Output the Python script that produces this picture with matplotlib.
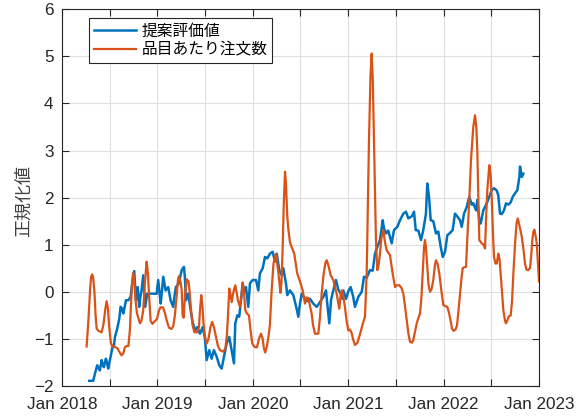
import matplotlib
matplotlib.use("Agg")
import matplotlib.pyplot as plt
import numpy as np

# Time axis is expressed in years elapsed since Jan 2018
# 提案評価値 (proposal evaluation score, normalised)
eval_t = [0.286, 0.328, 0.346, 0.370, 0.383, 0.398, 0.416, 0.430, 0.440, 0.461,
          0.472, 0.485, 0.510, 0.531, 0.545, 0.556, 0.580, 0.601, 0.615, 0.629,
          0.643, 0.655, 0.671, 0.695, 0.720, 0.737, 0.758, 0.765, 0.776, 0.794,
          0.810, 0.823, 0.835, 0.852, 0.863, 0.873, 0.894, 0.922, 0.957, 0.993,
          1.009, 1.035, 1.048, 1.062, 1.087, 1.114, 1.139, 1.167, 1.179, 1.195,
          1.226, 1.255, 1.279, 1.289, 1.300, 1.324, 1.349, 1.370, 1.394, 1.418,
          1.447, 1.475, 1.499, 1.517, 1.544, 1.569, 1.593, 1.622, 1.649, 1.674,
          1.698, 1.726, 1.754, 1.779, 1.803, 1.817, 1.838, 1.858, 1.873, 1.894,
          1.911, 1.929, 1.953, 1.971, 1.999, 2.034, 2.058, 2.075, 2.104, 2.128,
          2.152, 2.180, 2.209, 2.233, 2.251, 2.278, 2.303, 2.320, 2.348, 2.362,
          2.390, 2.425, 2.460, 2.477, 2.495, 2.513, 2.537, 2.565, 2.600, 2.634,
          2.670, 2.704, 2.739, 2.767, 2.785, 2.802, 2.820, 2.844, 2.872, 2.896,
          2.921, 2.940, 2.949, 2.977, 3.005, 3.026, 3.053, 3.071, 3.106, 3.142,
          3.166, 3.194, 3.228, 3.257, 3.281, 3.305, 3.333, 3.362, 3.375, 3.396,
          3.420, 3.456, 3.480, 3.515, 3.543, 3.578, 3.606, 3.630, 3.666, 3.690,
          3.708, 3.735, 3.763, 3.787, 3.815, 3.829, 3.847, 3.865, 3.892, 3.920,
          3.944, 3.970, 3.991, 4.015, 4.039, 4.067, 4.095, 4.119, 4.144, 4.172,
          4.190, 4.214, 4.242, 4.269, 4.295, 4.311, 4.340, 4.353, 4.374, 4.389,
          4.416, 4.452, 4.479, 4.504, 4.528, 4.557, 4.573, 4.591, 4.609, 4.633,
          4.654, 4.678, 4.703, 4.725, 4.748, 4.773, 4.794, 4.801, 4.819, 4.836]
eval_v = [-1.89, -1.89, -1.74, -1.56, -1.62, -1.67, -1.45, -1.55, -1.60, -1.42,
          -1.50, -1.63, -1.38, -1.17, -1.15, -0.96, -0.78, -0.57, -0.32, -0.35,
          -0.46, -0.35, -0.18, -0.18, -0.11, 0.18, 0.44, 0.20, -0.18, 0.10,
          -0.32, -0.10, 0.03, 0.35, 0.00, -0.32, -0.04, -0.04, -0.04, -0.04,
          0.25, -0.25, 0.00, 0.32, 0.03, 0.10, -0.18, -0.32, -0.10, 0.10,
          0.18, 0.46, 0.53, 0.30, -0.18, -0.04, -0.39, -0.64, -0.82, -0.75,
          -0.89, -0.75, -0.99, -1.45, -1.24, -1.42, -1.24, -1.38, -1.56, -1.63,
          -1.38, -1.10, -0.96, -1.24, -1.52, -0.67, -0.50, -0.53, -0.25, 0.18,
          0.00, 0.10, -0.32, 0.18, 0.25, 0.25, 0.03, 0.39, 0.50, 0.74,
          0.71, 0.81, 0.85, 0.64, 0.81, 0.46, 0.35, 0.50, 0.18, -0.07,
          0.03, -0.07, -0.36, -0.53, -0.25, -0.04, -0.11, -0.20, -0.15, -0.25,
          -0.32, -0.22, -0.11, 0.03, -0.32, -0.67, -0.18, 0.03, 0.25, 0.05,
          -0.04, -0.15, 0.03, -0.15, 0.03, 0.10, -0.11, -0.32, -0.11, 0.00,
          0.32, 0.30, 0.46, 0.45, 0.81, 0.95, 1.10, 1.52, 1.35, 1.24,
          1.30, 1.03, 1.31, 1.38, 1.52, 1.66, 1.70, 1.56, 1.60, 1.70,
          1.31, 1.30, 1.10, 1.31, 1.66, 2.30, 2.02, 1.52, 1.50, 1.24,
          1.28, 0.95, 0.74, 0.85, 1.20, 1.25, 1.31, 1.66, 1.60, 1.52,
          1.38, 1.66, 1.80, 2.02, 1.85, 1.88, 1.73, 1.95, 1.52, 1.45,
          1.73, 1.88, 2.02, 2.16, 2.20, 2.15, 2.05, 1.66, 1.65, 1.73,
          1.88, 1.85, 1.90, 2.02, 2.09, 2.16, 2.44, 2.66, 2.44, 2.51]

# 品目あたり注文数 (orders per item, normalised)
orders_t = [0.259, 0.278, 0.297, 0.307, 0.318, 0.328, 0.341, 0.353, 0.364, 0.383,
            0.416, 0.435, 0.456, 0.469, 0.482, 0.498, 0.514, 0.535, 0.556, 0.582,
            0.603, 0.626, 0.645, 0.660, 0.681, 0.697, 0.713, 0.723, 0.737, 0.747,
            0.760, 0.773, 0.786, 0.807, 0.818, 0.833, 0.852, 0.870, 0.888, 0.901,
            0.917, 0.930, 0.949, 0.975, 0.996, 1.017, 1.032, 1.059, 1.080, 1.097,
            1.122, 1.148, 1.167, 1.184, 1.202, 1.216, 1.226, 1.242, 1.255, 1.265,
            1.276, 1.289, 1.307, 1.326, 1.336, 1.352, 1.368, 1.389, 1.415, 1.436,
            1.447, 1.460, 1.473, 1.483, 1.499, 1.517, 1.536, 1.557, 1.575, 1.593,
            1.614, 1.635, 1.656, 1.691, 1.714, 1.730, 1.743, 1.754, 1.766, 1.779,
            1.798, 1.817, 1.829, 1.845, 1.866, 1.882, 1.895, 1.908, 1.921, 1.939,
            1.960, 1.976, 1.995, 2.018, 2.044, 2.065, 2.086, 2.102, 2.117, 2.131,
            2.149, 2.165, 2.180, 2.198, 2.217, 2.243, 2.259, 2.269, 2.290, 2.301,
            2.313, 2.324, 2.338, 2.348, 2.362, 2.372, 2.390, 2.408, 2.435, 2.466,
            2.495, 2.523, 2.547, 2.563, 2.582, 2.600, 2.617, 2.631, 2.652, 2.687,
            2.704, 2.722, 2.741, 2.762, 2.775, 2.794, 2.817, 2.844, 2.862, 2.879,
            2.893, 2.907, 2.919, 2.932, 2.945, 2.966, 2.982, 3.001, 3.019, 3.037,
            3.050, 3.071, 3.097, 3.124, 3.150, 3.176, 3.187, 3.194, 3.208, 3.218,
            3.234, 3.246, 3.258, 3.270, 3.281, 3.291, 3.305, 3.318, 3.333, 3.349,
            3.368, 3.386, 3.404, 3.438, 3.466, 3.491, 3.512, 3.536, 3.559, 3.578,
            3.595, 3.613, 3.632, 3.648, 3.669, 3.682, 3.700, 3.718, 3.737, 3.753,
            3.768, 3.781, 3.795, 3.805, 3.815, 3.829, 3.842, 3.857, 3.873, 3.892,
            3.908, 3.920, 3.936, 3.955, 3.978, 3.997, 4.015, 4.039, 4.057, 4.072,
            4.088, 4.104, 4.125, 4.140, 4.156, 4.172, 4.188, 4.200, 4.214, 4.235,
            4.250, 4.269, 4.287, 4.311, 4.329, 4.343, 4.353, 4.364, 4.374, 4.399,
            4.418, 4.434, 4.444, 4.458, 4.479, 4.492, 4.504, 4.518, 4.528, 4.544,
            4.557, 4.573, 4.586, 4.598, 4.612, 4.626, 4.644, 4.654, 4.670, 4.683,
            4.703, 4.717, 4.731, 4.748, 4.764, 4.777, 4.790, 4.806, 4.819, 4.837,
            4.853, 4.869, 4.885, 4.906, 4.919, 4.930, 4.940, 4.951, 4.963, 4.976,
            4.989, 5.000]
orders_v = [-1.16, -0.60, 0.10, 0.32, 0.37, 0.30, 0.00, -0.50, -0.78, -0.83,
            -0.86, -0.70, -0.35, -0.20, -0.35, -0.80, -1.10, -1.16, -1.17, -1.20,
            -1.28, -1.35, -1.30, -1.18, -1.15, -1.15, -0.80, -0.30, 0.25, 0.40,
            0.20, -0.20, -0.45, -0.60, -0.67, -0.62, -0.40, 0.20, 0.64, 0.40,
            -0.20, -0.62, -0.68, -0.62, -0.58, -0.40, -0.33, -0.33, -0.45, -0.60,
            -0.76, -0.79, -0.73, -0.50, -0.10, 0.25, 0.33, 0.22, 0.05, -0.50,
            -0.55, -0.10, 0.27, 0.22, 0.05, -0.35, -0.70, -0.86, -0.86, -0.75,
            -0.40, -0.07, -0.30, -0.65, -0.95, -1.10, -1.00, -0.75, -0.64, -0.75,
            -0.95, -1.15, -1.24, -1.27, -1.20, -0.90, -0.40, 0.07, -0.05, -0.22,
            0.00, 0.14, 0.00, -0.18, -0.32, -0.10, 0.20, 0.00, -0.38, -0.46,
            -0.50, -0.80, -1.10, -1.17, -1.18, -1.00, -0.89, -0.98, -1.20, -1.29,
            -1.15, -0.95, -0.70, 0.03, 0.60, 0.80, 0.55, 0.40, -0.02, 0.20,
            0.90, 1.80, 2.55, 2.30, 1.60, 1.35, 1.05, 0.95, 0.81, 0.39,
            0.22, 0.03, -0.25, -0.12, -0.13, -0.30, -0.46, -0.70, -0.89, -0.89,
            -0.55, -0.04, 0.35, 0.62, 0.67, 0.55, 0.35, 0.25, 0.10, -0.04,
            -0.20, -0.36, -0.10, 0.03, -0.05, -0.32, -0.60, -0.82, -0.80, -0.88,
            -1.00, -1.13, -1.08, -0.90, -0.70, -0.53, 0.00, 0.39, 2.00, 3.22,
            4.60, 5.06, 4.50, 3.22, 2.00, 1.10, 0.46, 0.55, 0.81, 1.15,
            1.31, 1.05, 0.88, 0.78, 0.39, 0.10, 0.14, 0.14, 0.08, -0.04,
            -0.30, -0.60, -0.90, -1.06, -1.08, -1.03, -0.85, -0.67, -0.55, -0.46,
            -0.10, 0.39, 0.95, 1.10, 0.95, 0.53, 0.15, 0.00, 0.05, 0.25,
            0.55, 0.67, 0.60, 0.39, 0.00, -0.28, -0.30, -0.32, -0.45, -0.60,
            -0.78, -0.83, -0.80, -0.72, -0.40, -0.04, 0.30, 0.50, 0.52, 0.53,
            1.20, 1.95, 2.80, 3.50, 3.75, 3.50, 3.00, 2.00, 1.10, 1.03,
            1.00, 0.92, 1.50, 2.16, 2.69, 2.50, 2.02, 1.20, 0.74, 0.60,
            0.60, 0.81, 0.70, 0.39, 0.00, -0.39, -0.62, -0.67, -0.60, -0.52,
            -0.50, -0.20, 0.39, 1.00, 1.45, 1.56, 1.45, 1.30, 1.17, 0.90,
            0.60, 0.47, 0.46, 0.50, 0.80, 1.10, 1.27, 1.32, 1.20, 1.03,
            0.60, 0.22]

series_labels = ["提案評価値", "品目あたり注文数"]
y_label = "正規化値"
start_year = 2018
tick_years = [2018, 2019, 2020, 2021, 2022, 2023]

blue = "#0072BD"
orange = "#D95319"
axis_col = "#262626"

plt.rcParams["font.family"] = ["Liberation Sans", "DejaVu Sans"]

fig = plt.figure(figsize=(5.84, 4.18), dpi=100)
ax = fig.add_axes([0.106, 0.0766, 0.817, 0.9012])

x_eval = start_year + np.asarray(eval_t)
x_orders = start_year + np.asarray(orders_t)
ax.plot(x_eval, eval_v, color=blue, lw=1.8, label=series_labels[0], zorder=3)
ax.plot(x_orders, orders_v, color=orange, lw=1.6, label=series_labels[1], zorder=4)

ax.set_xlim(tick_years[0], tick_years[-1])
ax.set_ylim(-2, 6)

half_years = np.arange(tick_years[0], tick_years[-1] + 0.01, 0.5)
ax.set_xticks(half_years)
ax.set_xticklabels([f"Jan {int(y)}" if float(y).is_integer() else "" for y in half_years])
ax.set_yticks(range(-2, 7))

ax.grid(True, color="#dfdfdf", lw=0.8, zorder=0)
ax.set_axisbelow(True)
for s in ax.spines.values():
    s.set_color(axis_col)
    s.set_linewidth(0.8)
ax.tick_params(direction="in", length=5, width=0.8, colors=axis_col,
               labelsize=12.3, top=True, right=True)
ax.tick_params(axis="x", pad=8)
ax.tick_params(axis="y", pad=6)

ax.set_ylabel(y_label, family=["Noto Sans CJK JP"], fontsize=13, color="#404040")
ax.yaxis.set_label_coords(-0.061, 0.49)

leg = ax.legend(loc="upper left", bbox_to_anchor=(0.0566, 0.977), frameon=True,
                fancybox=False, edgecolor=axis_col, framealpha=1,
                prop={"family": ["Noto Sans CJK JP"], "size": 11.3},
                handlelength=2.7, handletextpad=0.35, borderpad=0.3,
                labelspacing=0.12, borderaxespad=0.0)
leg.get_frame().set_linewidth(0.8)

fig.savefig("out.png", dpi=100)
